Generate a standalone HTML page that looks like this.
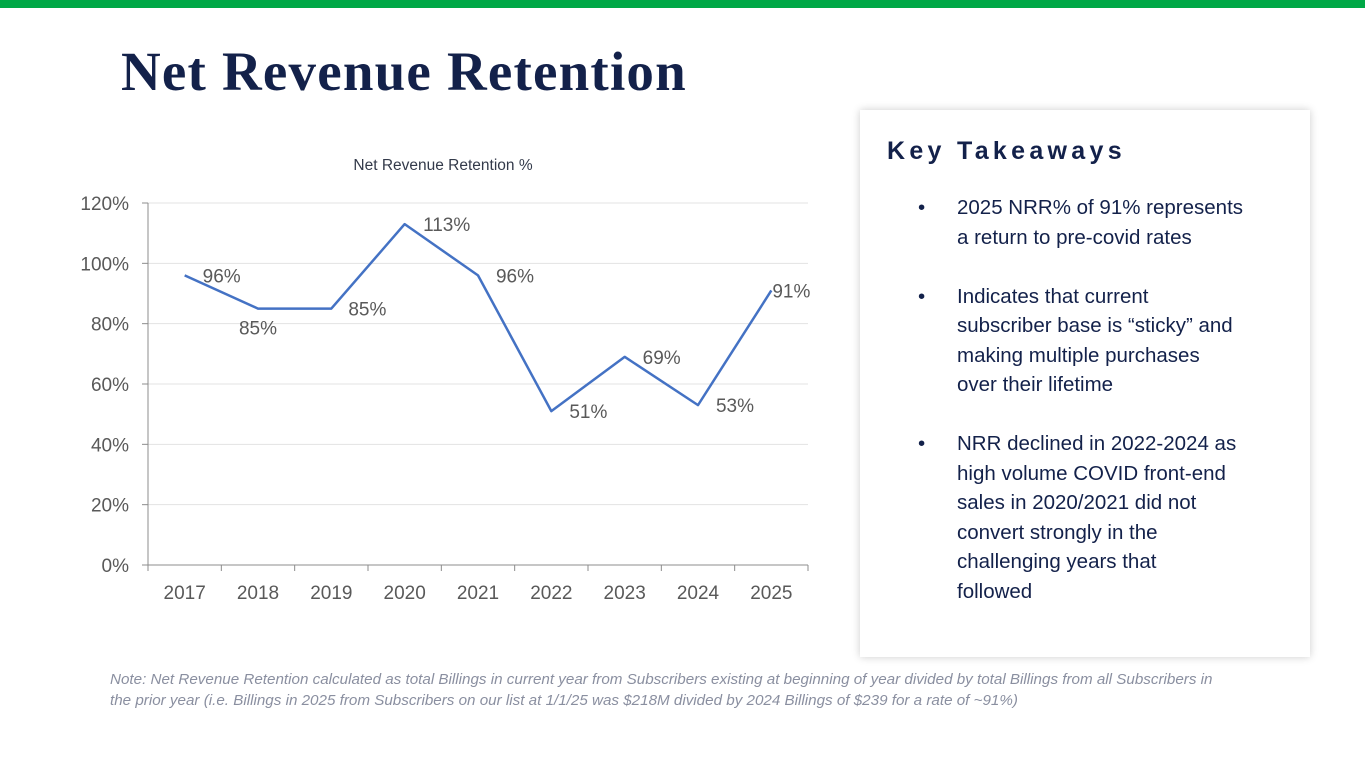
<!DOCTYPE html>
<html><head><meta charset="utf-8"><style>
body{margin:0;width:1365px;height:768px;background:#fff;position:relative;overflow:hidden;font-family:"Liberation Sans",sans-serif}
.bar{position:absolute;left:0;top:0;width:1365px;height:8px;background:#00a846}
h1{position:absolute;left:121px;top:40px;margin:0;font:bold 55px "Liberation Serif",serif;letter-spacing:1.2px;color:#13214a;white-space:nowrap}
.panel{position:absolute;left:860px;top:110px;width:450px;height:547px;background:#fff;box-shadow:0 0 8px rgba(0,0,0,.2)}
.panel h2{position:absolute;left:27px;top:27px;margin:0;font:bold 25px "Liberation Sans",sans-serif;letter-spacing:4.3px;color:#13214a}
.panel ul{position:absolute;left:58px;top:83px;margin:0;padding:0;list-style:none;width:390px}
.panel li{position:relative;padding-left:39px;font-size:20.5px;line-height:29.5px;color:#13214a;margin-bottom:29.5px;white-space:nowrap}
.panel li:before{content:"•";position:absolute;left:0}
.note{position:absolute;left:110px;top:669px;width:1250px;font:italic 15.2px "Liberation Sans",sans-serif;color:#8a8fa0;line-height:21px;white-space:nowrap}
</style></head><body>
<div class="bar"></div>
<h1>Net Revenue Retention</h1>
<svg id="chart" width="1365" height="768" style="position:absolute;left:0;top:0"></svg>
<div class="panel">
<h2>Key Takeaways</h2>
<ul>
<li>2025 NRR% of 91% represents<br>a return to pre-covid rates</li>
<li>Indicates that current<br>subscriber base is “sticky” and<br>making multiple purchases<br>over their lifetime</li>
<li>NRR declined in 2022-2024 as<br>high volume COVID front-end<br>sales in 2020/2021 did not<br>convert strongly in the<br>challenging years that<br>followed</li>
</ul></div>
<div class="note">Note: Net Revenue Retention calculated as total Billings in current year from Subscribers existing at beginning of year divided by total Billings from all Subscribers in<br>the prior year (i.e. Billings in 2025 from Subscribers on our list at 1/1/25 was $218M divided by 2024 Billings of $239 for a rate of ~91%)</div>
<script>
const categories=["2017","2018","2019","2020","2021","2022","2023","2024","2025"];
const values=[96,85,85,113,96,51,69,53,91];
const yTicks=[0,20,40,60,80,100,120];
const labelDx=[37,0,36,42,37,37,37,37,20];
const labelDy=[0,19,0,0,0,0,0,0,0];
const NS="http://www.w3.org/2000/svg";
const svg=document.getElementById('chart');
const x0=148,x1=808,yb=565,yt=203;
const bw=(x1-x0)/categories.length;
const X=i=>x0+bw*(i+0.5);
const Y=v=>yb-(v/120)*(yb-yt);
function mk(t,a,txt){const e=document.createElementNS(NS,t);for(const k in a)e.setAttribute(k,a[k]);if(txt!=null)e.textContent=txt;svg.appendChild(e);return e;}
let e=mk('text',{x:443,y:170,'text-anchor':'middle','font-size':15.5,fill:'#333a4a'},'Net Revenue Retention %');


yTicks.forEach(v=>{
 let g=mk('line',{x1:x0,x2:x1,y1:Y(v),y2:Y(v),stroke:v?'#e3e3e3':'#8c8c8c','stroke-width':1});
 
 
 let t=mk('line',{x1:x0-6,x2:x0,y1:Y(v),y2:Y(v),stroke:'#8c8c8c'});
 
 
 let l=mk('text',{x:x0-19,y:Y(v)+7,'text-anchor':'end','font-size':19,fill:'#595959'},v+'%');
 
 
});
let ax=mk('line',{x1:x0,x2:x0,y1:yt,y2:yb,stroke:'#8c8c8c'});


for(let i=0;i<=categories.length;i++){
 let t=mk('line',{x1:x0+bw*i,x2:x0+bw*i,y1:yb,y2:yb+6,stroke:'#8c8c8c'});
 
 
}
categories.forEach((c,i)=>{
 let l=mk('text',{x:X(i),y:599,'text-anchor':'middle','font-size':19,fill:'#595959'},c);
 
 
});
let p=mk('polyline',{points:values.map((v,i)=>X(i)+','+Y(v)).join(' '),fill:'none',stroke:'#4472c4','stroke-width':2.5,'stroke-linejoin':'round'});


values.forEach((v,i)=>{
 let l=mk('text',{x:X(i)+labelDx[i],y:Y(v)+labelDy[i]+7,'text-anchor':'middle','font-size':19,fill:'#595959'},v+'%');
 
 
});
</script>
</body></html>
